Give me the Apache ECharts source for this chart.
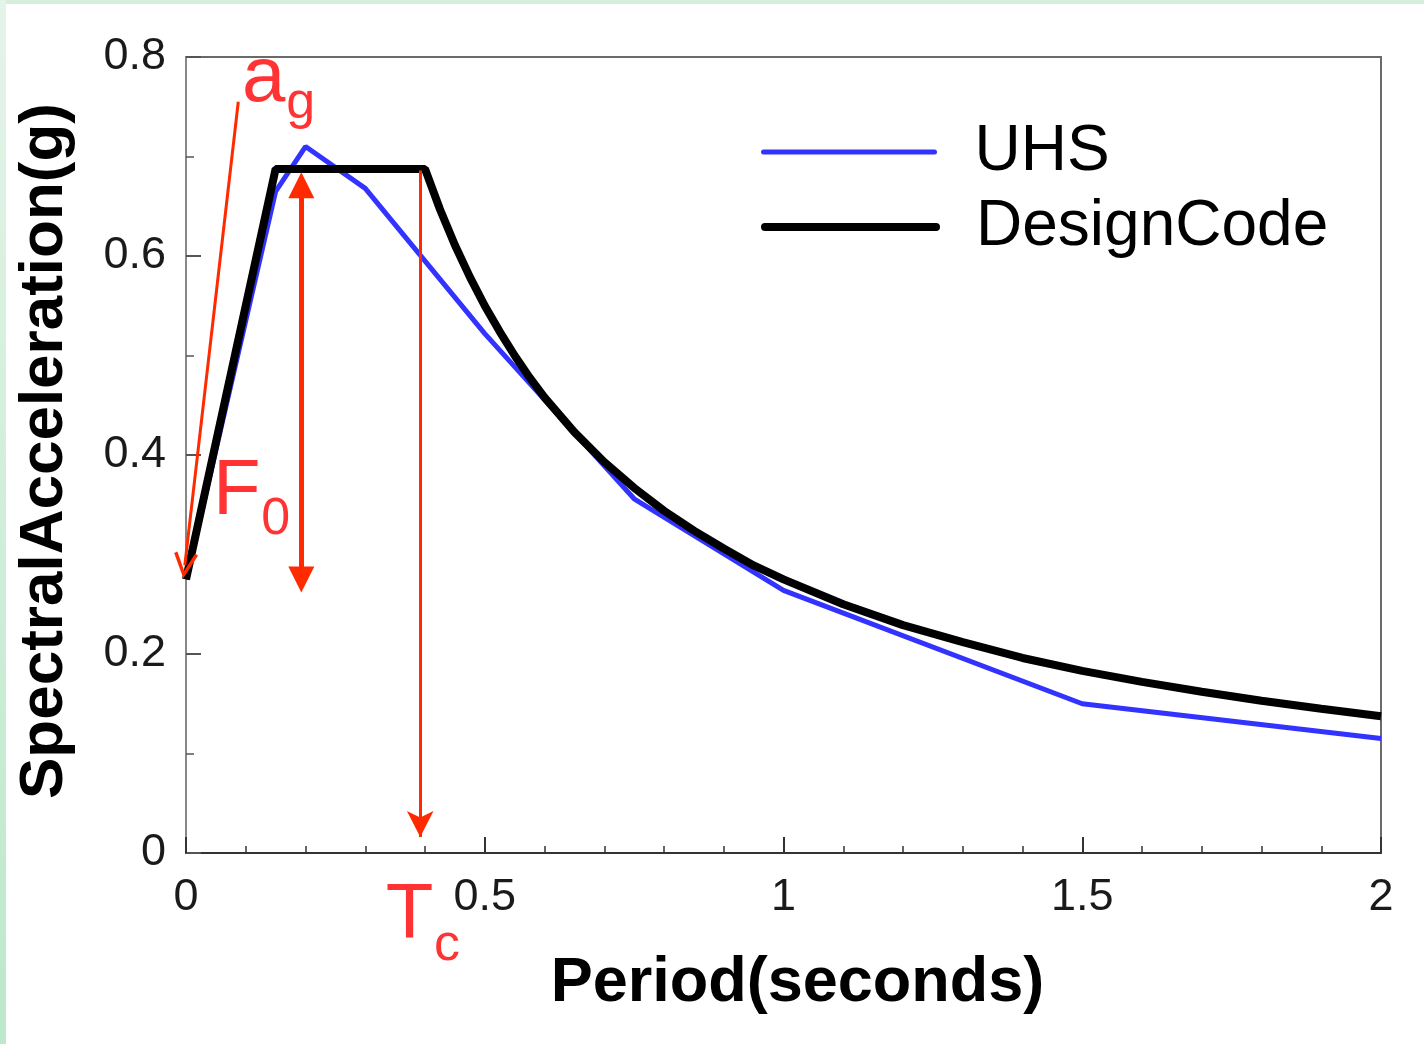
<!DOCTYPE html>
<html>
<head>
<meta charset="utf-8">
<title>UHS vs DesignCode</title>
<script src="https://cdn.jsdelivr.net/npm/echarts@6/dist/echarts.min.js"></script>
<style>
  html, body { margin: 0; padding: 0; background: #fff; }
  #chart { position: absolute; left: 0; top: 0; width: 1424px; height: 1044px; }
  .edge-left { position: absolute; left: 0; top: 0; width: 6px; height: 1044px; background: linear-gradient(#e4f4e9, #bce8cb); z-index: 2; }
  .edge-top { position: absolute; left: 0; top: 0; width: 1424px; height: 4px; background: #d6efdd; z-index: 2; }
</style>
</head>
<body>
<div id="chart"></div>
<div class="edge-top"></div>
<div class="edge-left"></div>
<script>
// UHS (uniform hazard spectrum)
const uhsPeriod = [0, 0.15, 0.2, 0.3, 0.5, 0.75, 1.0, 1.5, 2.0]
const uhsSa = [0.275, 0.665, 0.71, 0.668, 0.522, 0.356, 0.264, 0.150, 0.115]

// design code spectrum
const codePeriod = [0, 0.15, 0.4, 0.425, 0.45, 0.475, 0.5, 0.525, 0.55, 0.575, 0.6, 0.65, 0.7, 0.75, 0.8, 0.85, 0.9, 0.95, 1.0, 1.1, 1.2, 1.3, 1.4, 1.5, 1.6, 1.7, 1.8, 1.9, 2.0]
const codeSa = [0.275, 0.6875, 0.6875, 0.647, 0.611, 0.579, 0.55, 0.524, 0.5, 0.478, 0.458, 0.423, 0.393, 0.367, 0.344, 0.324, 0.306, 0.289, 0.275, 0.25, 0.229, 0.212, 0.196, 0.183, 0.172, 0.162, 0.153, 0.145, 0.1375]

const xTicks = { min: 0, max: 2, interval: 0.5 }
const yTicks = { min: 0, max: 0.8, interval: 0.2 }

// red annotations, in data units
const arrowAg = [[0.0875, 0.755], [-0.002, 0.289]]
const arrowF0 = [[0.193, 0.275], [0.193, 0.671]]
const arrowTc = [[0.392, 0.686], [0.392, 0.016]]
const noteText = [
  ['a', 0.130, 0.777, 'main'],
  ['g', 0.192, 0.753, 'sub'],
  ['F', 0.085, 0.362, 'main'],
  ['0', 0.150, 0.335, 'sub'],
  ['T', 0.374, -0.0636, 'main'],
  ['c', 0.437, -0.0935, 'sub'],
]

const FONT = 'Liberation Sans, Arial, sans-serif'
const RED = '#ff0000'
const ARROW_RED = '#ff2a00'
const chevron = 'path://M10,0 L20,19 L17.5,20.5 L10,6 L2.5,20.5 L0,19 Z'

const pairs = (xs, ys) => xs.map((x, i) => [x, ys[i]])

const legendBase = {
  orient: 'vertical',
  left: 761,
  padding: 0,
  itemWidth: 171,
  itemHeight: 14,
  itemStyle: { opacity: 0, borderWidth: 0 },
  textStyle: { fontFamily: FONT, fontSize: 64, color: '#000', padding: [0, 0, 0, 35] },
  selectedMode: false,
}

const option = {
  animation: false,
  backgroundColor: 'transparent',
  textStyle: { fontFamily: FONT },
  grid: {
    left: 186,
    right: 43,
    top: 57,
    bottom: 191,
    show: true,
    borderColor: '#6a6a6a',
    borderWidth: 2,
    backgroundColor: 'transparent',
  },
  legend: [
    Object.assign({}, legendBase, { top: 120, data: ['UHS'], lineStyle: { width: 5, cap: 'round' } }),
    Object.assign({}, legendBase, { top: 195, data: ['DesignCode'], lineStyle: { width: 8, cap: 'round' } }),
  ],
  xAxis: {
    type: 'value',
    min: xTicks.min,
    max: xTicks.max,
    interval: xTicks.interval,
    name: 'Period(seconds)',
    nameLocation: 'middle',
    nameGap: 99,
    nameTextStyle: { fontFamily: FONT, fontSize: 63, fontWeight: 'bold', color: '#000', padding: [0, 0, 0, 28] },
    axisLine: { show: true, onZero: false, lineStyle: { color: '#333', width: 2 } },
    axisTick: { show: true, inside: true, length: 16, lineStyle: { color: '#333', width: 2 } },
    minorTick: { show: true, splitNumber: 5, length: 7, lineStyle: { color: '#333', width: 1.5 } },
    axisLabel: { margin: 22, fontSize: 45, color: '#1a1a1a', fontFamily: FONT },
    splitLine: { show: false },
    minorSplitLine: { show: false },
  },
  yAxis: {
    type: 'value',
    min: yTicks.min,
    max: yTicks.max,
    interval: yTicks.interval,
    name: 'SpectralAcceleration(g)',
    nameLocation: 'middle',
    nameRotate: 90,
    nameGap: 110,
    nameTextStyle: { fontFamily: FONT, fontSize: 62, fontWeight: 'bold', color: '#000', padding: [0, 0, 0, 8] },
    axisLine: { show: true, onZero: false, lineStyle: { color: '#888', width: 2 } },
    axisTick: { show: true, inside: true, length: 15, lineStyle: { color: '#555', width: 2 } },
    minorTick: { show: true, splitNumber: 2, length: 8, lineStyle: { color: '#555', width: 1.5 } },
    axisLabel: { margin: 20, fontSize: 45, color: '#1a1a1a', fontFamily: FONT },
    splitLine: { show: false },
    minorSplitLine: { show: false },
  },
  series: [
    {
      name: 'UHS',
      type: 'line',
      data: pairs(uhsPeriod, uhsSa),
      symbol: 'none',
      lineStyle: { color: '#3333ff', width: 5 },
      itemStyle: { color: '#3333ff' },
      silent: true,
      z: 2,
    },
    {
      name: 'DesignCode',
      type: 'line',
      data: pairs(codePeriod, codeSa),
      symbol: 'none',
      lineStyle: { color: '#000', width: 8 },
      itemStyle: { color: '#000' },
      silent: true,
      z: 3,
    },
    {
      type: 'lines',
      coordinateSystem: 'cartesian2d',
      data: [{ coords: arrowAg }],
      symbol: ['none', chevron],
      symbolSize: [0, [24, 26]],
      lineStyle: { color: ARROW_RED, width: 3, opacity: 1 },
      clip: false,
      silent: true,
      z: 4,
    },
    {
      type: 'lines',
      coordinateSystem: 'cartesian2d',
      data: [{ coords: arrowF0 }],
      symbol: ['triangle', 'triangle'],
      symbolSize: 26,
      lineStyle: { color: ARROW_RED, width: 5, opacity: 1 },
      clip: false,
      silent: true,
      z: 4,
    },
    {
      type: 'lines',
      coordinateSystem: 'cartesian2d',
      data: [{ coords: arrowTc }],
      symbol: ['none', 'arrow'],
      symbolSize: [0, [20, 26]],
      lineStyle: { color: ARROW_RED, width: 3, opacity: 1 },
      clip: false,
      silent: true,
      z: 4,
    },
    {
      type: 'scatter',
      data: noteText.map(([t, x, y, role]) => ({
        value: [x, y],
        label: {
          show: true,
          position: 'inside',
          formatter: t,
          fontSize: role === 'main' ? 78 : 52,
        },
      })),
      symbolSize: 1,
      itemStyle: { color: 'rgba(0,0,0,0)' },
      label: { color: RED, fontFamily: FONT, align: 'center', verticalAlign: 'middle' },
      clip: false,
      silent: true,
      z: 5,
    },
  ],
}

const myChart = echarts.init(document.getElementById('chart'))
myChart.setOption(option)
</script>
</body>
</html>
